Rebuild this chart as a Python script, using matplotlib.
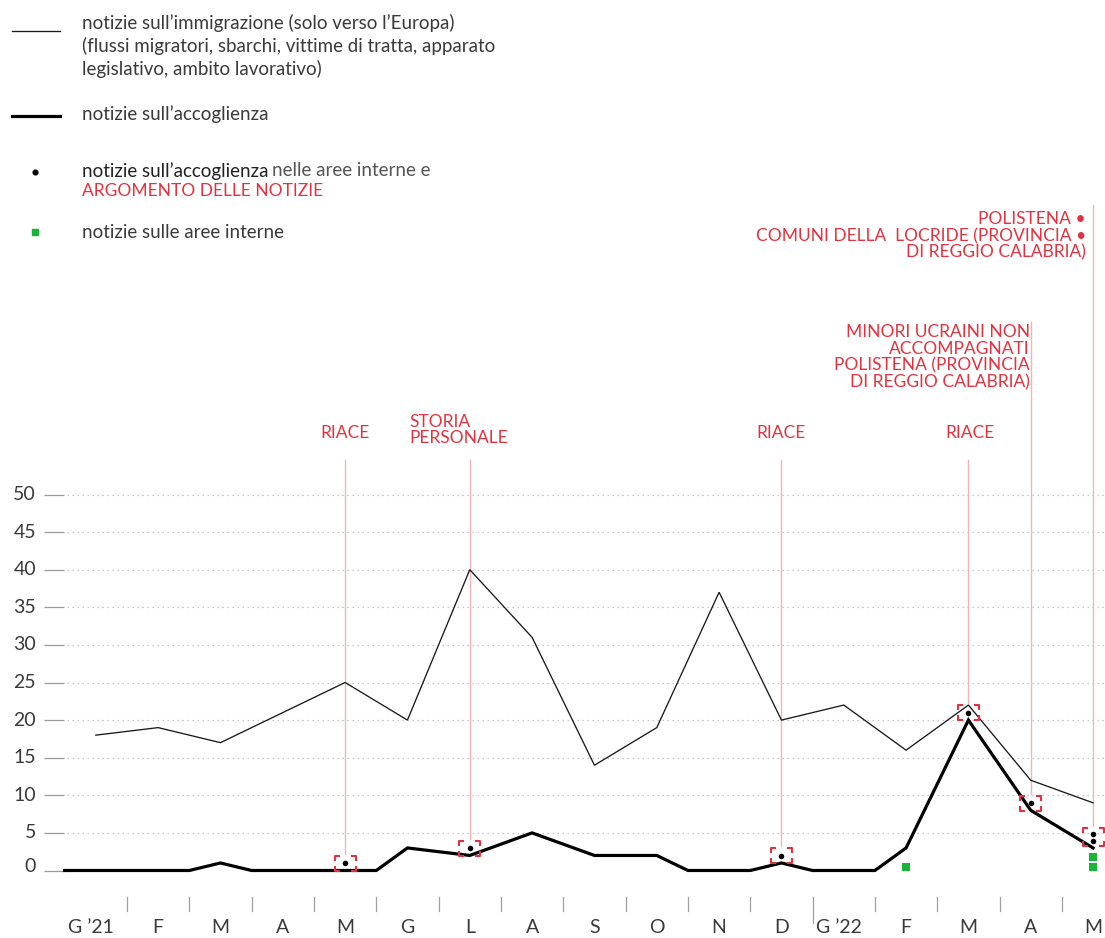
import matplotlib
matplotlib.use("Agg")
import matplotlib.pyplot as plt
from matplotlib.path import Path
import numpy as np

# ---------------- data ----------------
months = ["G ’21", "F", "M", "A", "M", "G", "L", "A", "S", "O", "N", "D",
          "G ’22", "F", "M", "A", "M"]
immigrazione = [18, 19, 17, 21, 25, 20, 40, 31, 14, 19, 37, 20, 22, 16, 22, 12, 9]
accoglienza = [0, 0, 1, 0, 0, 3, 2, 5, 2, 2, 0, 1, 0, 3, 20, 8, 3]
accoglienza_aree_interne = [0, 0, 0, 0, 1, 0, 1, 0, 0, 0, 0, 1, 0, 0, 1, 1, 2]
aree_interne = [0, 0, 0, 0, 0, 0, 0, 0, 0, 0, 0, 0, 0, 1, 0, 0, 2]
yticks = [0, 5, 10, 15, 20, 25, 30, 35, 40, 45, 50]
argomenti = {
    4: "RIACE",
    6: "STORIA\nPERSONALE",
    11: "RIACE",
    14: "RIACE",
    15: "MINORI UCRAINI NON\nACCOMPAGNATI\nPOLISTENA (PROVINCIA\nDI REGGIO CALABRIA)",
    16: "POLISTENA •\nCOMUNI DELLA  LOCRIDE (PROVINCIA •\nDI REGGIO CALABRIA)",
}

# ---------------- style ----------------
FONT = ["Lato", "DejaVu Sans"]
plt.rcParams['font.family'] = FONT
RED = "#e3323f"
PINK = "#f5b3b9"
GREY_TXT = "#3a3a3a"
W, H = 1105, 938

fig = plt.figure(figsize=(W / 100, H / 100), dpi=100)
ax = fig.add_axes([0, 0, 1, 1])
ax.axis("off")

# pixel mapping of the reference (x index 0 at px 95.8, 62.33 px / month;
# value 0 at py 870.5, 7.52 px / unit)
X0, DX = 95.8, 62.33
Y0, DY = 870.5, 7.52
ax.set_xlim((0 - X0) / DX, (W - X0) / DX)
ax.set_ylim((Y0 - H) / DY, Y0 / DY)

def px(p):  # pixel x -> data x
    return (p - X0) / DX

def py(p):  # pixel y (from top) -> data y
    return (Y0 - p) / DY

xi = np.arange(len(months))

# ---------------- y axis ----------------
for v in yticks:
    ax.text(px(36), v if v else py(866), str(v), ha="right",
            va="center", fontsize=14, color=GREY_TXT)
    ax.plot([px(44), px(64)], [v, v], color="#9a9a9a", lw=0.9,
            solid_capstyle="butt")
    if v > 0:
        ax.plot([px(67), px(W)], [v, v], color="#c4c4c4", lw=0.9,
                ls=(0, (1.2, 2.8)))

# ---------------- x axis ----------------
for k in range(len(months) - 1):
    xt = k + 0.5
    bottom = 923 if months[k + 1].startswith("G ’") else 911
    ax.plot([xt, xt], [py(897), py(bottom)], color="#a0a0a0", lw=0.9)
for i, m in enumerate(months):
    ax.text(i - (0.08 if "’" in m else 0), py(927), m, ha="center",
            va="center", fontsize=14, color=GREY_TXT)

# ---------------- lines ----------------
ax.plot(xi, immigrazione, color="#1a1a1a", lw=0.95, solid_joinstyle="miter",
        zorder=3)

pts_x, pts_y = [], []
if accoglienza[0] == 0:
    pts_x.append(-0.5); pts_y.append(0)
for i, v in enumerate(accoglienza):
    if i > 0 and ((accoglienza[i - 1] == 0) != (v == 0)):
        pts_x.append(i - 0.5); pts_y.append(0)
    pts_x.append(i); pts_y.append(v)
ax.plot(pts_x, pts_y, color="black", lw=2.3, solid_joinstyle="miter",
        zorder=4)

# ---------------- bracket ----------------
def bracket(hw, hh, arm):
    verts, codes = [], []
    for sx in (-1, 1):
        for sy in (-1, 1):
            verts += [(sx * hw, sy * (hh - arm)), (sx * hw, sy * hh),
                      (sx * (hw - arm), sy * hh)]
            codes += [Path.MOVETO, Path.LINETO, Path.LINETO]
    return verts, codes

def draw_bracket(xc, yc, hw_px, hh_px, arm_px=5):
    verts, codes = bracket(hw_px, hh_px, arm_px)
    xs, ys = [], []
    for (vx, vy), c in zip(verts, codes):
        if c == Path.MOVETO and xs:
            ax.plot(xs, ys, color=RED, lw=1.5, solid_capstyle="butt",
                    zorder=6)
            xs, ys = [], []
        xs.append(xc + vx / DX); ys.append(yc + vy / DY)
    ax.plot(xs, ys, color=RED, lw=1.5, solid_capstyle="butt", zorder=6)

# ---------------- dots (accoglienza aree interne) ----------------
tops = {}
for i, n in enumerate(accoglienza_aree_interne):
    if n == 0:
        continue
    ys = [accoglienza[i] + 0.95 * (k + 1) for k in range(n)]
    ax.scatter([i] * n, ys, s=16, color="black", zorder=7, linewidths=0)
    yc = np.mean(ys)
    hh = 7.5 + 1.5 * (n - 1)
    draw_bracket(i, yc, 10.5, hh)
    tops[i] = yc + hh / DY

# ---------------- green squares ----------------
for i, n in enumerate(aree_interne):
    if n == 0:
        continue
    ys = [0.45 + 1.3 * k for k in range(n)]
    ax.scatter([i] * n, ys, s=30, marker="s", color="#19b43a", zorder=7,
               linewidths=0)

# ---------------- annotations ----------------
line_top = {4: 460, 6: 460, 11: 460, 14: 460, 15: 322, 16: 205}
for i, txt in argomenti.items():
    ax.plot([i, i], [py(line_top[i]), tops[i] + 2 / DY], color=PINK,
            lw=1.0, zorder=2)

RF = 12.5
ax.text(4, py(433), argomenti[4], ha="center", va="center", fontsize=RF,
        color=RED)
ax.text(px(409), py(430), argomenti[6], ha="left", va="center",
        fontsize=RF, color=RED, linespacing=1.05)
ax.text(11, py(433), argomenti[11], ha="center", va="center", fontsize=RF,
        color=RED)
ax.text(14 + 0.03, py(433), argomenti[14], ha="center", va="center",
        fontsize=RF, color=RED)
ax.text(px(1030), py(357), argomenti[15], ha="right", va="center",
        fontsize=RF, color=RED, linespacing=1.05)
ax.text(px(1086), py(236), argomenti[16], ha="right", va="center",
        fontsize=RF, color=RED, linespacing=1.05)

# ---------------- legend ----------------
def fx(p):
    return p / W

def fy(p):
    return 1 - p / H

fig.add_artist(plt.Line2D([fx(12), fx(60)], [fy(31), fy(31)], color="#1a1a1a",
                          lw=0.95))
fig.add_artist(plt.Line2D([fx(12), fx(60)], [fy(116), fy(116)], color="black",
                          lw=2.3))
fig.add_artist(plt.Line2D([fx(35)], [fy(172)], marker="o", ms=3.4,
                          color="black", lw=0))
fig.add_artist(plt.Line2D([fx(35)], [fy(232)], marker="s", ms=4.2,
                          color="#19b43a", lw=0))

LF = 13.5
fig.text(fx(82), fy(46),
         "notizie sull’immigrazione (solo verso l’Europa)\n"
         "(flussi migratori, sbarchi, vittime di tratta, apparato\n"
         "legislativo, ambito lavorativo)",
         ha="left", va="center", fontsize=LF, color=GREY_TXT, linespacing=1.3)
fig.text(fx(82), fy(114), "notizie sull’accoglienza", ha="left", va="center",
         fontsize=LF, color=GREY_TXT)
t1 = fig.text(fx(82), fy(171), "notizie sull’accoglienza", ha="left",
              va="center", fontsize=LF, color="#222222")
fig.canvas.draw()
bb = t1.get_window_extent()
fig.text(bb.x1 / W + fx(4), fy(171), "nelle aree interne e", ha="left",
         va="center", fontsize=LF, color="#555555")
fig.text(fx(82), fy(191), "ARGOMENTO DELLE NOTIZIE", ha="left", va="center",
         fontsize=RF, color=RED)
fig.text(fx(82), fy(232), "notizie sulle aree interne", ha="left",
         va="center", fontsize=LF, color=GREY_TXT)

fig.savefig("out.png", dpi=100)
